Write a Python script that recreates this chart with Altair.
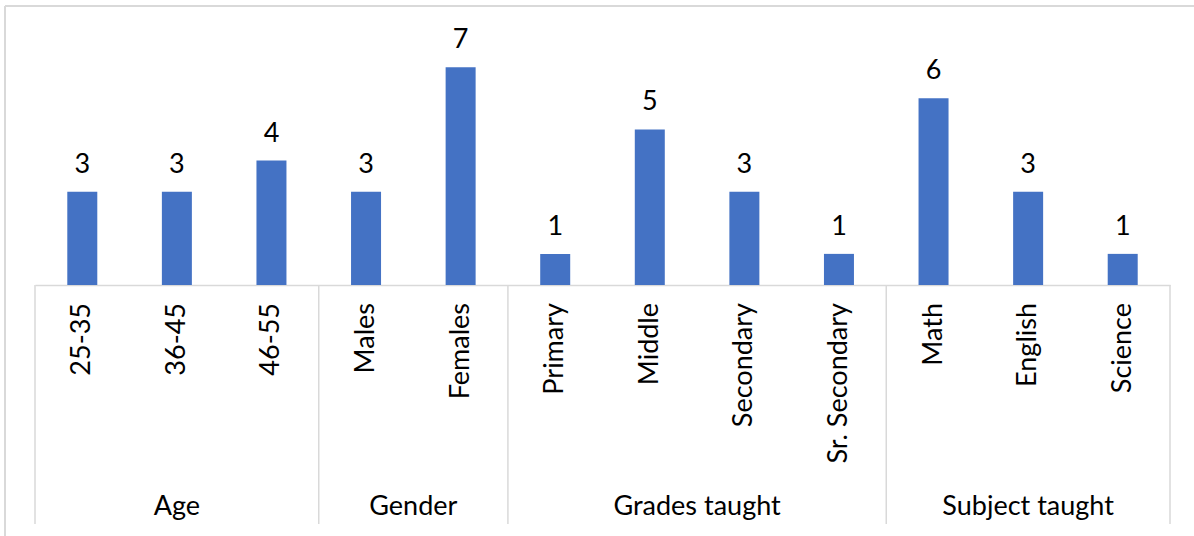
import altair as alt
import pandas as pd

# Survey respondents by category
categories = ["25-35", "36-45", "46-55", "Males", "Females", "Primary", "Middle",
              "Secondary", "Sr. Secondary", "Math", "English", "Science"]
groups = ["Age", "Age", "Age", "Gender", "Gender", "Grades taught", "Grades taught",
          "Grades taught", "Grades taught", "Subject taught", "Subject taught", "Subject taught"]
counts = [3, 3, 4, 3, 7, 1, 5, 3, 1, 6, 3, 1]

W, H = 1135, 249
FONT = "Lato"
FS = 27
LINE = "#d9d9d9"

df = pd.DataFrame({
    "category": categories,
    "group": groups,
    "count": counts,
    "pos": [i + 0.5 for i in range(len(categories))],
})

# group spans along the index axis
spans = []
start = 0
for i in range(1, len(groups) + 1):
    if i == len(groups) or groups[i] != groups[start]:
        spans.append({"group": groups[start], "start": start, "end": i, "mid": (start + i) / 2})
        start = i
gdf = pd.DataFrame(spans)
bounds = pd.DataFrame({"b": sorted(set([s["start"] for s in spans] + [s["end"] for s in spans]))})

xs = alt.Scale(domain=[0, len(categories)], nice=False, zero=False, padding=0)
ys = alt.Scale(domain=[0, 8], nice=False, padding=0)

base = alt.Chart(df)

bars = base.mark_bar(size=30, color="#4472C4").encode(
    x=alt.X("pos:Q", scale=xs,
            axis=alt.Axis(labels=False, ticks=False, grid=False, title=None,
                          domainColor=LINE, domainWidth=1.5)),
    y=alt.Y("count:Q", scale=ys, axis=None),
)

values = base.mark_text(font=FONT, fontSize=FS, color="#000000", dy=-19,
                        baseline="alphabetic", align="center").encode(
    x=alt.X("pos:Q", scale=xs),
    y=alt.Y("count:Q", scale=ys),
    text="count:Q",
)

cat_labels = base.mark_text(font=FONT, fontSize=FS, color="#000000", angle=270,
                            align="right", baseline="middle").encode(
    x=alt.X("pos:Q", scale=xs),
    y=alt.value(H + 18),
    text="category:N",
)

group_labels = alt.Chart(gdf).mark_text(font=FONT, fontSize=FS, color="#000000",
                                        align="center", baseline="alphabetic").encode(
    x=alt.X("mid:Q", scale=xs),
    y=alt.value(H + 230),
    text="group:N",
)

separators = alt.Chart(bounds).mark_rule(color=LINE, strokeWidth=1.5).encode(
    x=alt.X("b:Q", scale=xs),
    y=alt.value(H),
    y2=alt.value(H + 239),
)

# outer chart frame (top and left edges)
frame_top = alt.Chart(df).mark_rule(color=LINE, strokeWidth=2).encode(
    x=alt.value(-30), x2=alt.value(W + 40), y=alt.value(-30))
frame_left = alt.Chart(df).mark_rule(color=LINE, strokeWidth=2).encode(
    x=alt.value(-30), y=alt.value(-30), y2=alt.value(H + 260))

chart = alt.layer(frame_top, frame_left, separators, bars, values, cat_labels, group_labels).properties(
    width=W, height=H,
    background="white",
    padding={"left": 35, "top": 36, "right": 24, "bottom": 251},
    autosize=alt.AutoSizeParams(type="none"),
).configure_view(strokeWidth=0, stroke="transparent")

chart.save("out.html", embed_options={"renderer": "svg", "actions": False})
